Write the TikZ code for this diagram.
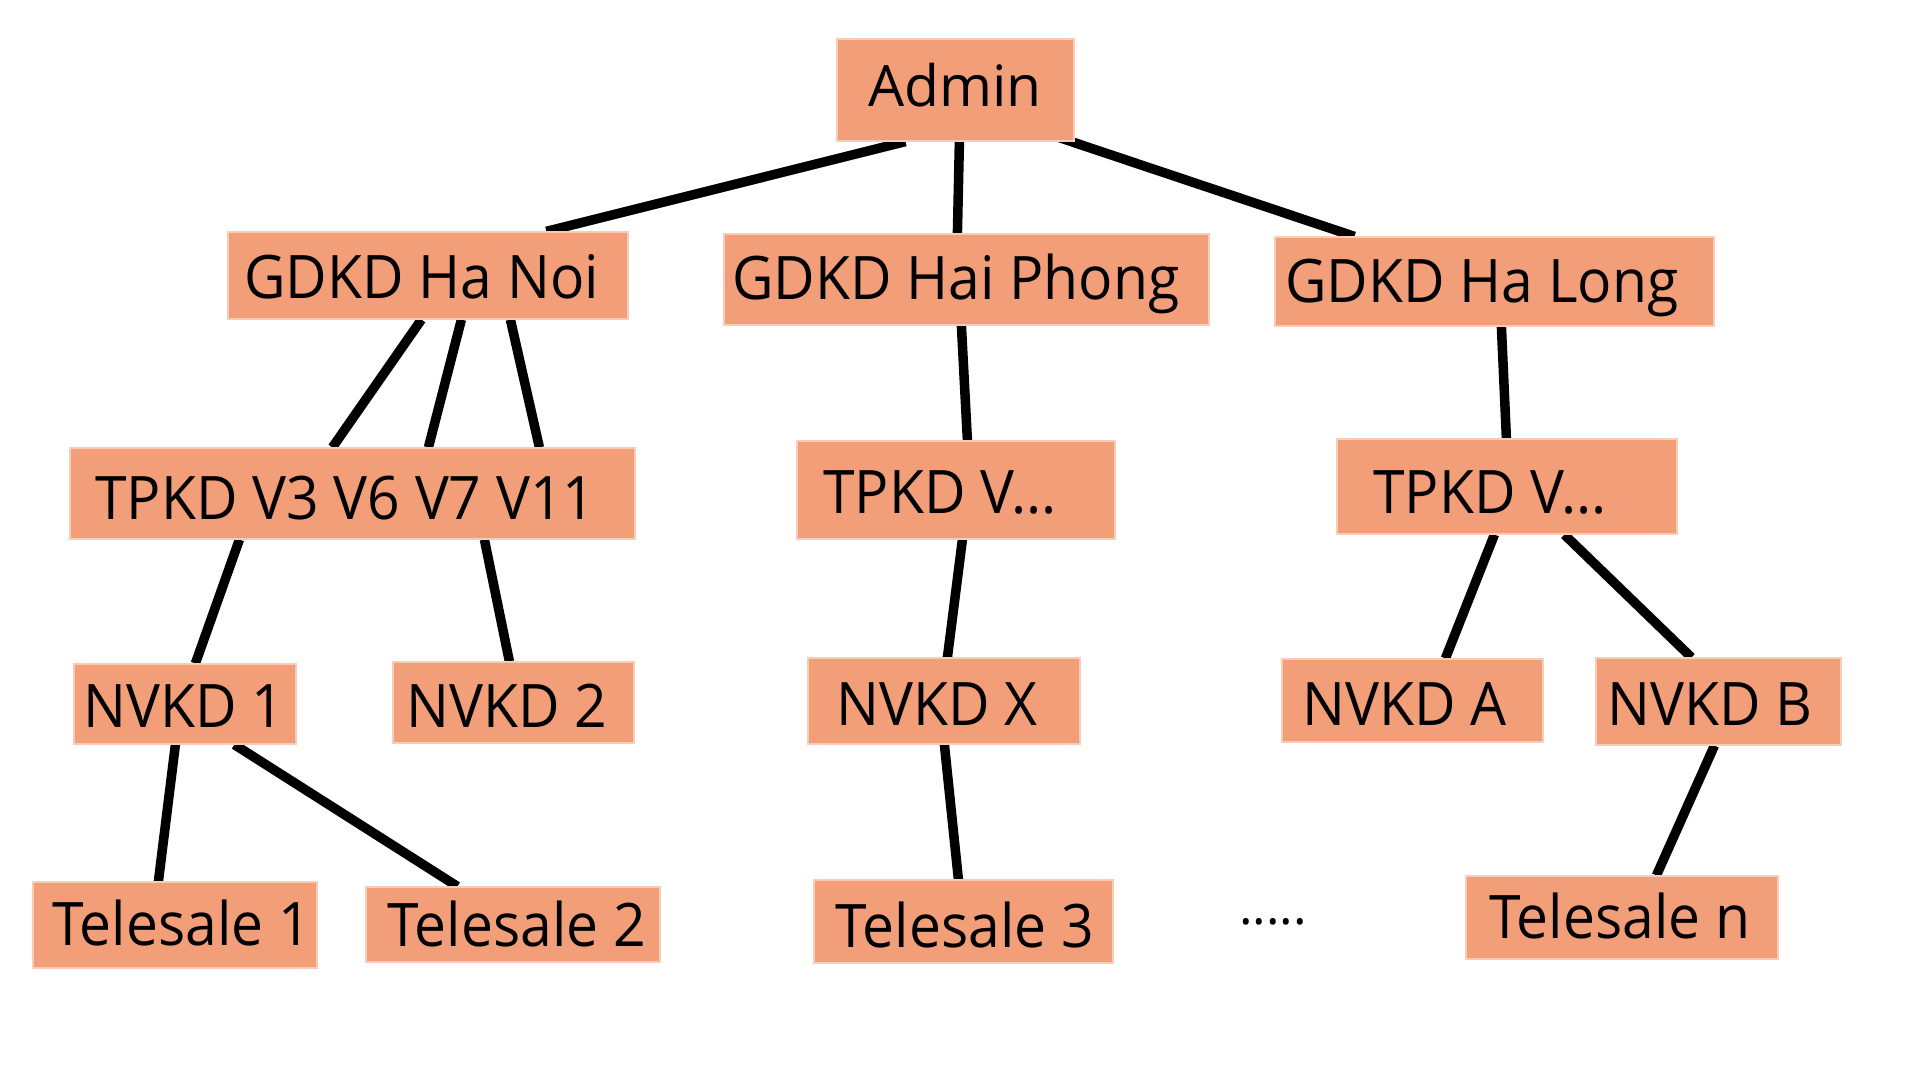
\documentclass[tikz,border=0pt]{standalone}
\usepackage{fontspec}
\setmainfont{Open Sans}
\newfontfamily\narrowfont[FakeStretch=0.95]{Open Sans}
\usetikzlibrary{backgrounds}
\definecolor{boxfill}{RGB}{242,158,121}
\definecolor{boxedge}{RGB}{249,204,184}
\tikzset{
  box/.style={fill=boxfill, draw=boxedge, line width=1.2pt, inner sep=0pt, rectangle},
  lbl/.style={anchor=base west, inner sep=0pt, font=\narrowfont\fontsize{60}{72}\selectfont},
  link/.style={line width=9.5pt, black},
}
\begin{document}
\begin{tikzpicture}[x=1pt,y=-1pt]
\useasboundingbox (0,0) rectangle (1920,1080);
% boxes
\node[box, minimum width=237pt, minimum height=102pt] (admin) at (955.5,90) {};
\node[box, minimum width=400pt, minimum height=87pt] (hanoi) at (428,275.5) {};
\node[box, minimum width=485pt, minimum height=91pt] (haiphong) at (966.5,279.5) {};
\node[box, minimum width=439pt, minimum height=89pt] (halong) at (1494.5,281.5) {};
\node[box, minimum width=565pt, minimum height=91pt] (tpa) at (352.5,493.5) {};
\node[box, minimum width=318pt, minimum height=98pt] (tpb) at (956,490) {};
\node[box, minimum width=340pt, minimum height=95pt] (tpc) at (1507,486.5) {};
\node[box, minimum width=222pt, minimum height=80pt] (nv1) at (185,704) {};
\node[box, minimum width=241pt, minimum height=81pt] (nv2) at (513.5,702.5) {};
\node[box, minimum width=272pt, minimum height=86pt] (nvx) at (944,701) {};
\node[box, minimum width=261pt, minimum height=83pt] (nva) at (1412.5,700.5) {};
\node[box, minimum width=245pt, minimum height=87pt] (nvb) at (1718.5,701.5) {};
\node[box, minimum width=284pt, minimum height=86pt] (ts1) at (175,925) {};
\node[box, minimum width=294pt, minimum height=75pt] (ts2) at (513,924.5) {};
\node[box, minimum width=299pt, minimum height=83pt] (ts3) at (963.5,921.5) {};
\node[box, minimum width=312pt, minimum height=83pt] (tsn) at (1622,917.5) {};
% texts
\node[lbl, font=\rmfamily\fontsize{57}{68}\selectfont] (admin-t) at (868,106) {Admin};
\node[lbl] (hanoi-t) at (244,298) {GDKD Ha Noi};
\node[lbl] (haiphong-t) at (732,299) {GDKD Hai Phong};
\node[lbl] (halong-t) at (1285,302) {GDKD Ha Long};
\node[lbl] (tpa-t) at (95,519) {TPKD V3 V6 V7 V11};
\node[lbl] (tpb-t) at (823,513) {TPKD V...};
\node[lbl] (tpc-t) at (1373,513) {TPKD V...};
\node[lbl] (nv1-t) at (83,727) {NVKD 1};
\node[lbl] (nv2-t) at (406,727) {NVKD 2};
\node[lbl] (nvx-t) at (836,725) {NVKD X};
\node[lbl] (nva-t) at (1302,725) {NVKD A};
\node[lbl] (nvb-t) at (1607,725) {NVKD B};
\node[lbl] (ts1-t) at (52,945) {Telesale 1};
\node[lbl] (ts2-t) at (387,946) {Telesale 2};
\node[lbl] (ts3-t) at (835,947) {Telesale 3};
\node[lbl] (tsn-t) at (1489,938) {Telesale n};
\node[lbl, font=\rmfamily\fontsize{51}{60}\selectfont] (dots) at (1239,924) {.....};
% connectors
\begin{scope}[on background layer]
\draw[link] ([xshift=69pt]admin.south west) -- ([xshift=319pt]hanoi.north west);
\draw[link] ([xshift=123pt]admin.south west) -- ([xshift=234pt]haiphong.north west);
\draw[link] ([xshift=223pt,yshift=4pt]admin.south west) -- ([xshift=80pt]halong.north west);
\draw[link] ([xshift=194pt]hanoi.south west) -- ([xshift=263pt]tpa.north west);
\draw[link] ([xshift=234pt]hanoi.south west) -- ([xshift=359pt]tpa.north west);
\draw[link] ([xshift=283pt]hanoi.south west) -- ([xshift=470pt]tpa.north west);
\draw[link] ([xshift=238pt]haiphong.south west) -- ([xshift=171pt]tpb.north west);
\draw[link] ([xshift=227pt]halong.south west) -- ([xshift=170pt]tpc.north west);
\draw[link] ([xshift=170pt]tpa.south west) -- ([xshift=122pt]nv1.north west);
\draw[link] ([xshift=415pt]tpa.south west) -- ([xshift=117pt]nv2.north west);
\draw[link] ([xshift=166pt]tpb.south west) -- ([xshift=140pt]nvx.north west);
\draw[link] ([xshift=158pt]tpc.south west) -- ([xshift=164pt]nva.north west);
\draw[link] ([xshift=228pt]tpc.south west) -- ([xshift=96pt]nvb.north west);
\draw[link] ([xshift=102pt]nv1.south west) -- ([xshift=126pt]ts1.north west);
\draw[link] ([xshift=161pt]nv1.south west) -- ([xshift=92pt]ts2.north west);
\draw[link] ([xshift=137pt]nvx.south west) -- ([xshift=145pt]ts3.north west);
\draw[link] ([xshift=119pt]nvb.south west) -- ([xshift=191pt]tsn.north west);
\end{scope}
\end{tikzpicture}
\end{document}
